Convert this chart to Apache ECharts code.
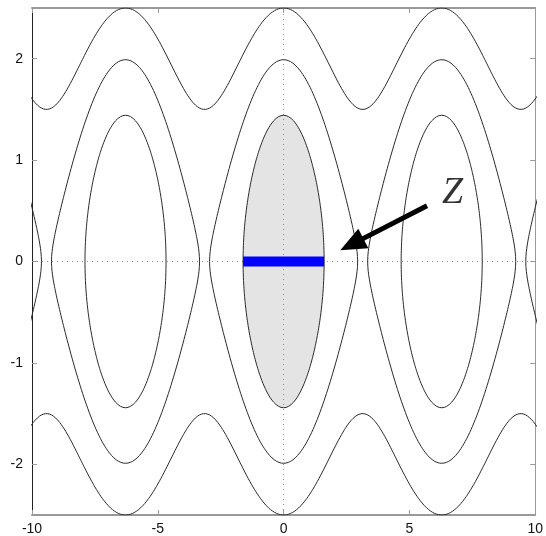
<!DOCTYPE html>
<html>
<head>
<meta charset="utf-8">
<script src="https://cdn.jsdelivr.net/npm/echarts@6/dist/echarts.min.js"></script>
<style>
  html, body { margin: 0; padding: 0; background: #fff; }
  #chart { width: 546px; height: 536px; }
</style>
</head>
<body>
<div id="chart"></div>
<script>
// Phase plane of the pendulum: level sets of H(x, y) = y^2/2 - cos(x)
const xTicks = [-10, -5, 0, 5, 10];
const yTicks = [-2, -1, 0, 1, 2];
const xRange = [-10, 10];
const yRange = [-2.5, 2.5];

// energy of the small libration orbit (shaded), the near-separatrix orbit and the rotation orbit
const energyLevels = [0.04, 0.98, 2.125];
const shadedLevel = 0.04;

// annotation arrow: tail and tip, and the label position
const arrowTail = [5.7, 0.55];
const arrowTip = [2.25, 0.11];
const labelPos = [6.72, 0.68];
const labelText = 'Z';

const TWO_PI = 2 * Math.PI;

function speed(E, x) {
  return Math.sqrt(Math.max(0, 2 * (E + Math.cos(x))));
}

// closed libration orbit centered at c (upper half, lower half)
function orbitHalves(E, c) {
  const a = Math.acos(-E);
  const top = [], bottom = [];
  const n = 300;
  for (let i = 0; i <= n; i++) {
    const t = Math.PI * i / n;
    const x = c - a * Math.cos(t);
    top.push([x, speed(E, x)]);
    bottom.push([x, -speed(E, x)]);
  }
  return { top, bottom };
}

// open branch spanning the whole x range (rotation orbit)
function openBranch(E, sign) {
  const pts = [];
  for (let x = xRange[0] - 0.5; x <= xRange[1] + 0.5; x += 0.02) {
    pts.push([x, sign * speed(E, x)]);
  }
  return pts;
}

const curveStyle = { color: '#2a2a2a', width: 1 };
const series = [];

function addLine(data, extra) {
  series.push(Object.assign({
    type: 'line', data, showSymbol: false, symbol: 'none', silent: true,
    lineStyle: curveStyle, clip: true, z: 3, animation: false
  }, extra || {}));
}

// shaded region of the central libration orbit
const shaded = orbitHalves(shadedLevel, 0);
addLine(shaded.top, { lineStyle: { width: 0 }, areaStyle: { color: '#e4e4e4', opacity: 1 }, z: 1 });
addLine(shaded.bottom, { lineStyle: { width: 0 }, areaStyle: { color: '#e4e4e4', opacity: 1 }, z: 1 });

energyLevels.forEach(E => {
  if (E < 1) {
    for (let k = -2; k <= 2; k++) {
      const c = k * TWO_PI;
      const a = Math.acos(-E);
      if (c + a < xRange[0] || c - a > xRange[1]) continue;
      const h = orbitHalves(E, c);
      addLine(h.top);
      addLine(h.bottom);
    }
  } else {
    addLine(openBranch(E, 1));
    addLine(openBranch(E, -1));
  }
});

// dotted coordinate axes
addLine([[0, yRange[0]], [0, yRange[1]]], { lineStyle: { color: '#888', width: 1, type: [1, 4] }, z: 2 });
addLine([[xRange[0], 0], [xRange[1], 0]], { lineStyle: { color: '#888', width: 1, type: [1, 4] }, z: 2 });

// blue segment across the shaded orbit
const halfWidth = Math.acos(-shadedLevel);
addLine([[-halfWidth, 0], [halfWidth, 0]], { lineStyle: { color: '#0000ff', width: 10, cap: 'butt' }, z: 5 });

// arrow: thick shaft plus a filled triangular head
series.push({
  type: 'custom', silent: true, animation: false, z: 6, clip: false,
  data: [[arrowTail[0], arrowTail[1], arrowTip[0], arrowTip[1]]],
  renderItem: function (params, api) {
    const p0 = api.coord([api.value(0), api.value(1)]);
    const p1 = api.coord([api.value(2), api.value(3)]);
    const dx = p1[0] - p0[0], dy = p1[1] - p0[1];
    const len = Math.sqrt(dx * dx + dy * dy);
    const ux = dx / len, uy = dy / len;
    const headLen = 26, headHalf = 11;
    const bx = p1[0] - ux * headLen, by = p1[1] - uy * headLen;
    return {
      type: 'group',
      children: [{
        type: 'line',
        shape: { x1: p0[0], y1: p0[1], x2: bx + ux * 2, y2: by + uy * 2 },
        style: { stroke: '#000', lineWidth: 5 }
      }, {
        type: 'polygon',
        shape: { points: [[p1[0], p1[1]], [bx - uy * headHalf, by + ux * headHalf], [bx + uy * headHalf, by - ux * headHalf]] },
        style: { fill: '#000' }
      }]
    };
  }
});

series.push({
  type: 'scatter', data: [labelPos], symbolSize: 0, silent: true, animation: false,
  label: {
    show: true, position: 'inside', formatter: labelText,
    fontFamily: 'Liberation Serif', fontStyle: 'italic', fontSize: 38, color: '#000'
  }
});

const tickLabel = { fontFamily: 'Liberation Sans, Arial, sans-serif', fontSize: 14, color: '#111' };

const chart = echarts.init(document.getElementById('chart'), null, { renderer: 'canvas' });
chart.setOption({
  animation: false,
  backgroundColor: '#fff',
  grid: { left: 32, right: 8, top: 8, bottom: 21, show: false },
  xAxis: [{
    type: 'value', min: xRange[0], max: xRange[1], interval: 5,
    axisLine: { show: true, onZero: false, lineStyle: { color: '#999', width: 2 } },
    axisTick: { show: true, inside: true, length: 5, lineStyle: { color: '#999' } },
    axisLabel: Object.assign({ margin: 7, customValues: xTicks }, tickLabel),
    splitLine: { show: false }
  }, {
    type: 'value', position: 'top', min: xRange[0], max: xRange[1], interval: 5,
    axisLine: { show: true, onZero: false, lineStyle: { color: '#999', width: 2 } },
    axisTick: { show: true, inside: true, length: 5, lineStyle: { color: '#999' } },
    axisLabel: { show: false }, splitLine: { show: false }
  }],
  yAxis: [{
    type: 'value', min: yRange[0], max: yRange[1],
    axisLine: { show: true, onZero: false, lineStyle: { color: '#222', width: 1 } },
    axisTick: { show: true, inside: true, length: 5, lineStyle: { color: '#999' }, customValues: yTicks },
    axisLabel: Object.assign({ margin: 9, customValues: yTicks }, tickLabel),
    splitLine: { show: false }
  }, {
    type: 'value', position: 'right', min: yRange[0], max: yRange[1],
    axisLine: { show: true, onZero: false, lineStyle: { color: '#999', width: 1 } },
    axisTick: { show: true, inside: true, length: 5, lineStyle: { color: '#999' }, customValues: yTicks },
    axisLabel: { show: false }, splitLine: { show: false }
  }],
  series
});
</script>
</body>
</html>
